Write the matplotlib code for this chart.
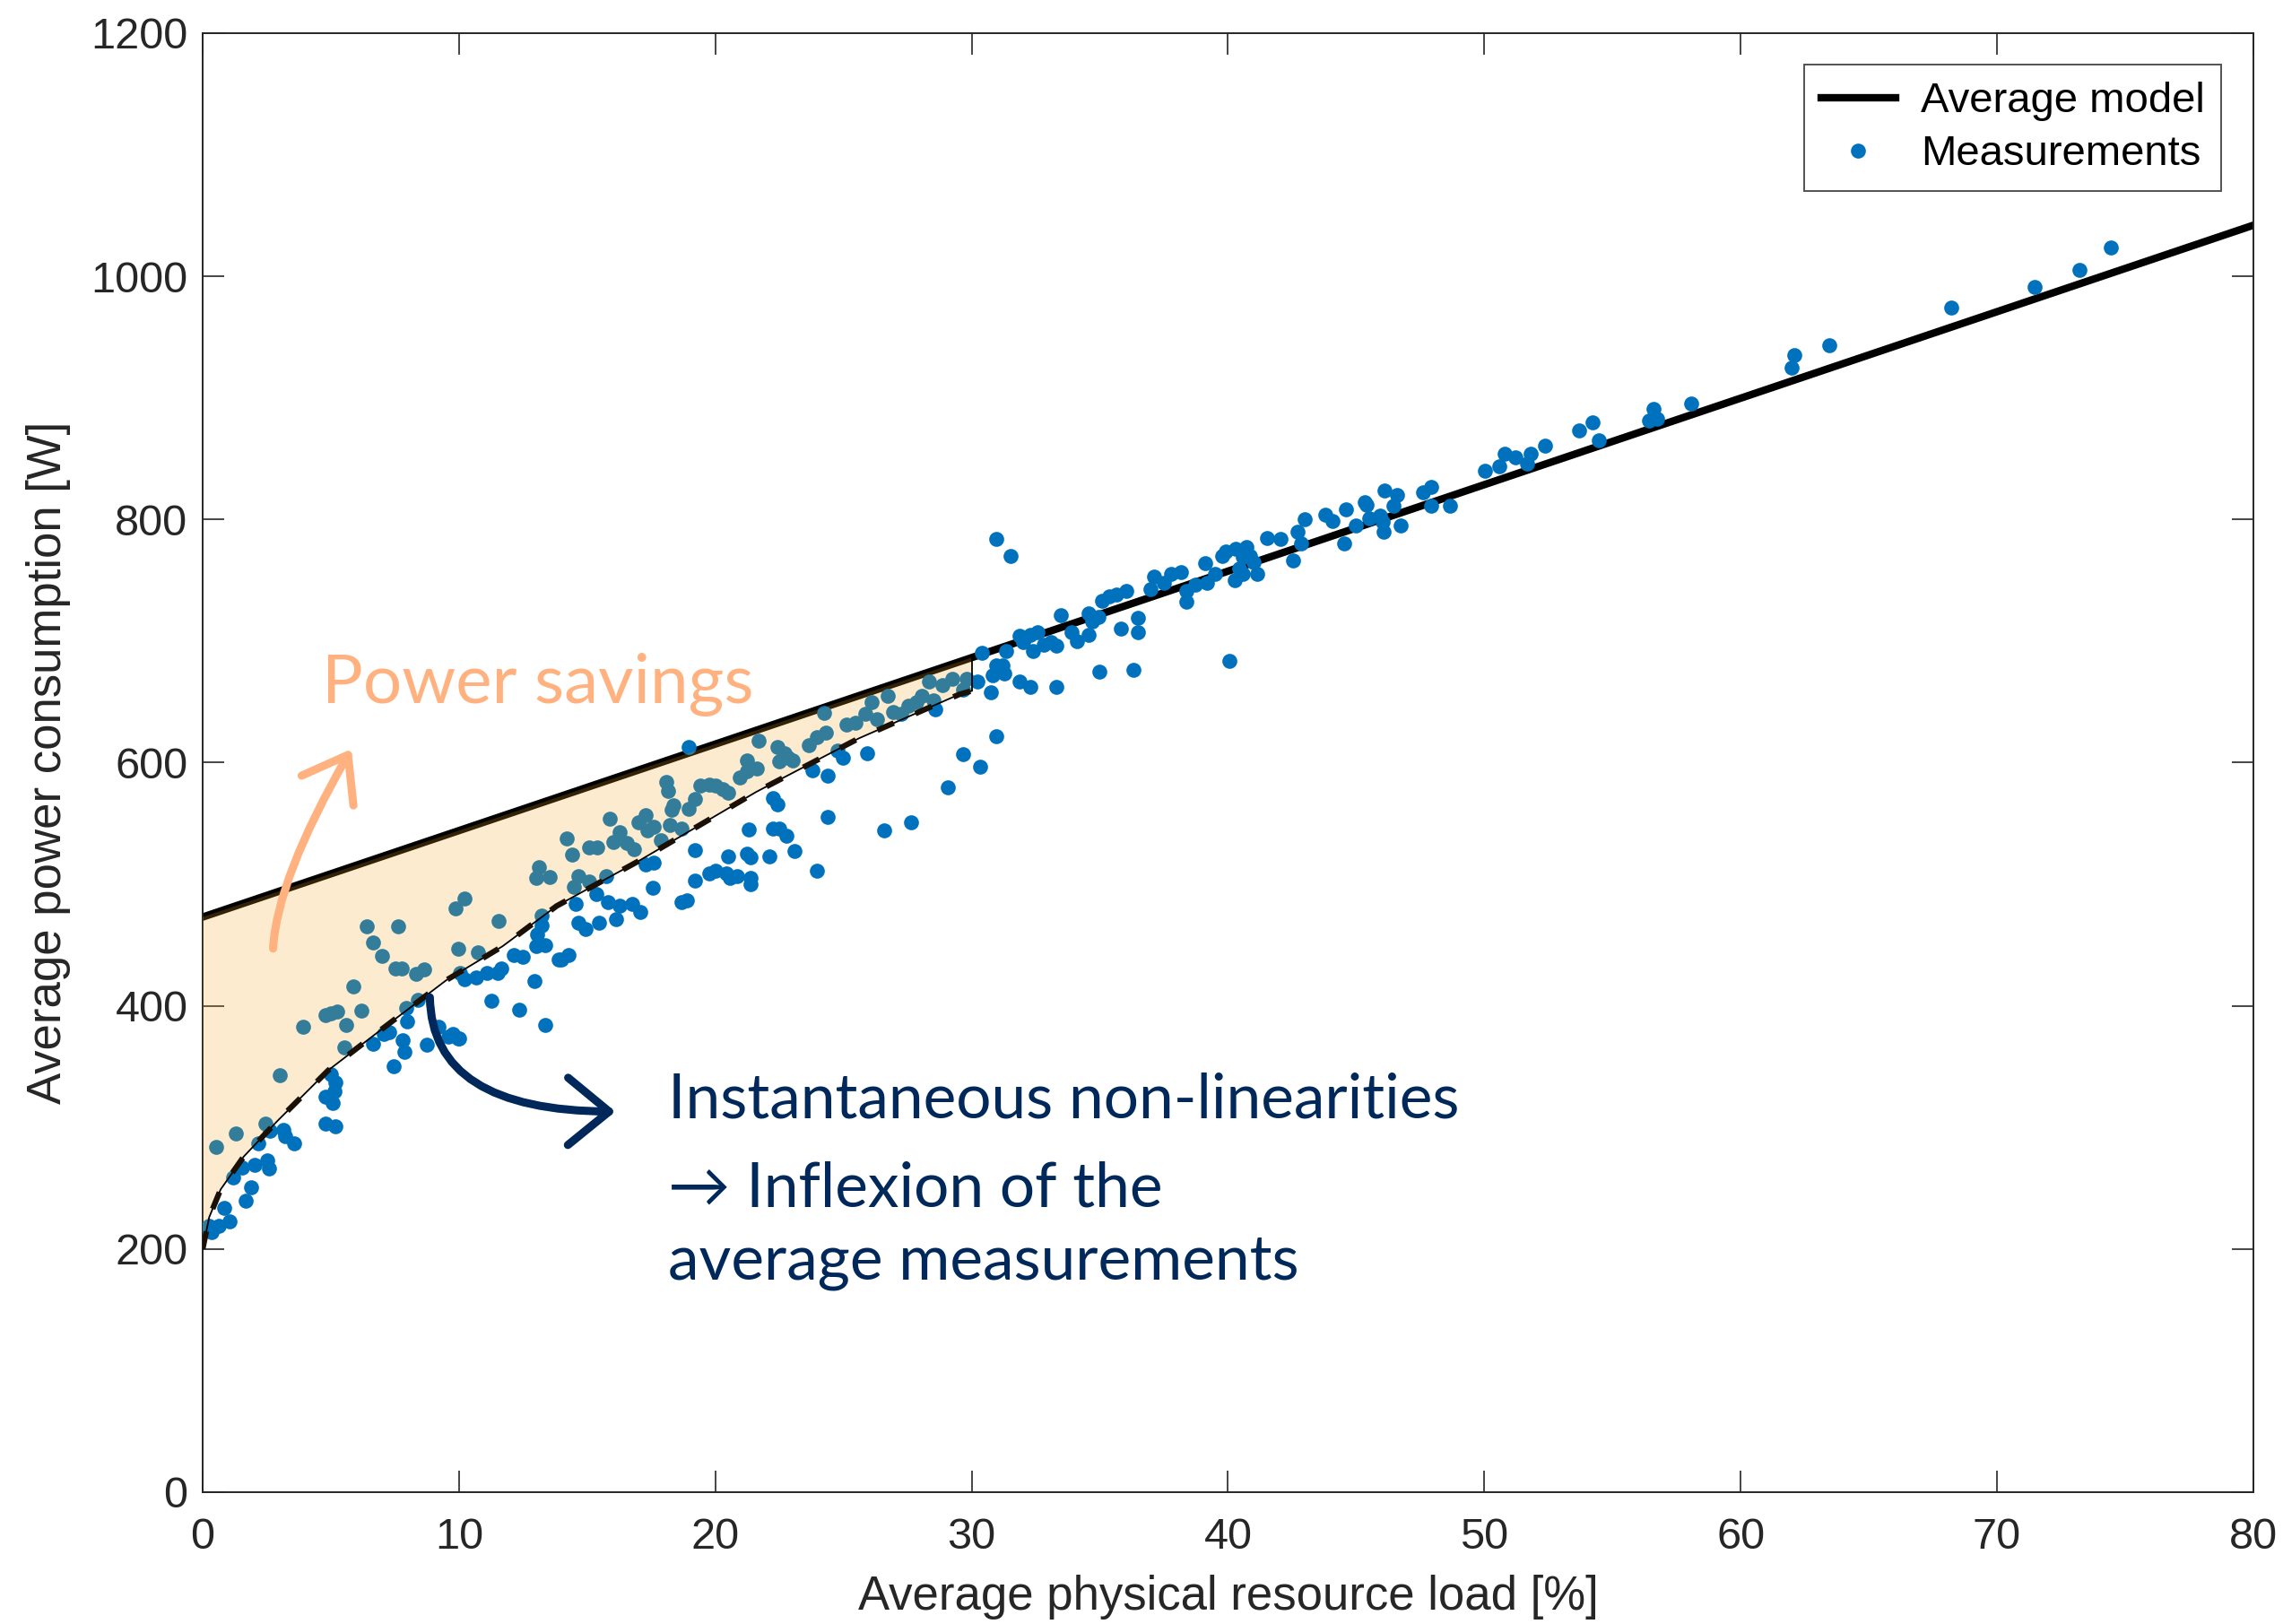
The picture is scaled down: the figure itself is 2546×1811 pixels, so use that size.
import numpy as np
import matplotlib.pyplot as plt
from matplotlib.patches import FancyArrowPatch

# average model: straight line over the whole load range
model_x = [0, 80]
model_y = [473, 1042]

# inflexion of the averaged measurements (low-load part)
curve_x = [0, 0.25, 0.7, 1.6, 2.9, 4.9, 7.0, 9.5, 11.7, 13.8, 17.0, 21.6, 25.6, 29.5, 30]
curve_y = [200, 226, 249, 276, 305, 347, 381, 421, 449, 482, 519, 576, 620, 656, 659]

# measurements, load 0-14 %
load_a = [6.41, 7.64, 9.85, 10.2, 11.54, 13.23, 6.65, 7.0, 7.52, 7.75, 8.34, 8.63, 9.97, 10.73,
          5.89, 6.18, 4.78, 5.01, 5.25, 5.6, 3.9, 5.54, 3.0, 2.45, 1.28, 0.52, 7.93, 8.4, 10.03,
          0.0, 0.23, 0.35, 0.64, 1.05, 0.82, 1.69, 1.87, 1.17, 1.52, 2.04, 2.51, 2.57, 2.16,
          3.15, 3.2, 3.56, 2.62, 4.78, 5.19, 4.78, 5.07, 5.13, 5.19, 5.01, 6.65, 7.05, 7.29,
          7.46, 7.87, 7.81, 7.99, 8.75, 9.21, 9.74, 9.97, 10.2, 10.67, 11.08, 11.49, 11.66,
          12.13, 12.48, 11.25, 12.36, 13.35, 12.94, 13.0, 13.35, 13.06, 13.23, 13.88, 9.58, 9.99]
power_a = [465, 465, 480, 488, 470, 474, 452, 441, 431, 431, 426, 430, 447, 444,
           416, 396, 392, 394, 395, 384, 383, 366, 343, 303, 295, 284, 398, 405, 427,
           215, 219, 214, 219, 223, 234, 240, 251, 259, 267, 269, 273, 266, 287,
           298, 293, 287, 297, 303, 301, 325, 320, 330, 337, 344, 369, 377, 378,
           350, 362, 372, 387, 368, 383, 377, 373, 422, 423, 427, 427, 431,
           442, 440, 404, 397, 384, 420, 449, 450, 459, 466, 438, 375, 373]

# measurements, load 13-30 %
load_b = [13.13, 13.0, 13.53, 14.2, 14.4, 14.47, 14.67, 15.07, 15.07, 15.4, 15.88, 15.74, 16.01,
          16.28, 16.54, 16.81, 17.01, 17.27, 17.34, 17.61, 17.88, 18.08, 18.15, 18.35, 18.29,
          18.22, 18.69, 18.95, 19.22, 19.42, 19.76, 20.02, 20.29, 20.49, 20.96, 21.23, 21.23,
          21.63, 21.7, 22.43, 22.5, 22.7, 22.83, 23.03, 23.64, 23.97, 24.24, 24.31, 24.78,
          25.11, 25.45, 25.85, 26.11, 26.32, 26.72, 26.92, 27.25, 27.52, 27.86, 28.06, 28.32,
          28.52, 28.86, 29.26, 29.66, 29.8,
          14.0, 14.27, 14.54, 14.67, 14.94, 15.47, 15.34, 15.81, 16.14, 16.28, 16.74, 17.08,
          17.28, 17.61, 17.55, 18.69, 18.89, 19.22, 19.22, 19.76, 20.02, 20.42, 20.56, 20.83,
          20.49, 21.23, 21.36, 21.36, 21.36, 22.09, 22.5, 22.23, 22.77, 23.1, 21.29, 22.23,
          22.43, 23.97, 24.37, 24.37, 23.77, 24.97, 25.92, 26.58, 27.65, 29.06, 29.66, 28.59,
          18.95]
power_b = [514, 505, 506, 538, 524, 498, 507, 502, 530, 530, 554, 507, 535,
           543, 534, 529, 551, 557, 544, 547, 536, 584, 577, 565, 561,
           549, 546, 562, 570, 581, 582, 581, 578, 575, 588, 602, 593,
           595, 618, 613, 601, 608, 604, 602, 614, 621, 641, 625, 610,
           631, 633, 640, 650, 636, 655, 642, 640, 647, 650, 655, 667,
           651, 664, 669, 660, 669,
           438, 442, 484, 468, 463, 468, 492, 485, 471, 482, 484, 477,
           516, 518, 497, 485, 487, 528, 503, 509, 511, 509, 505, 507,
           523, 525, 522, 505, 500, 523, 546, 546, 540, 527, 545, 571,
           566, 511, 589, 555, 594, 604, 608, 544, 551, 580, 607, 644,
           613]

# measurements, load 30-46 %
load_c = [30.94, 31.5, 30.38, 30.21, 30.75, 30.94, 31.2, 30.8, 31.28, 31.35, 31.88, 32.28, 33.29,
          31.88, 32.28, 32.55, 32.0, 32.4, 32.82, 33.09, 33.29, 33.49, 33.89, 34.09, 34.56,
          34.69, 34.56, 35.1, 35.37, 35.63, 36.03, 34.96, 35.83, 36.5, 36.5, 36.3, 34.99,
          37.1, 36.97, 37.5, 37.77, 38.17, 38.37, 38.37, 38.71, 39.11, 39.51, 39.18, 40.05,
          39.91, 39.78, 40.31, 40.72, 40.58, 40.98, 40.25, 40.58, 41.12, 40.45, 40.85, 41.52,
          42.06, 42.53, 42.72, 42.99, 42.86, 43.79, 44.06, 44.53, 44.6, 45.0, 45.4, 45.94,
          46.07, 30.97, 30.33]
power_c = [784, 770, 690, 667, 658, 680, 680, 672, 673, 692, 667, 662, 662,
           704, 705, 707, 699, 692, 697, 699, 696, 721, 707, 700, 723,
           716, 705, 733, 737, 738, 741, 720, 710, 707, 719, 676, 675,
           753, 743, 748, 755, 757, 741, 732, 746, 764, 755, 748, 684,
           774, 770, 776, 777, 769, 765, 750, 755, 755, 760, 770, 785,
           784, 766, 790, 800, 780, 804, 799, 780, 808, 795, 812, 803,
           790, 622, 597]

# measurements, load 45-80 %
load_d = [45.5, 46.04, 46.75, 46.44, 46.59, 46.12, 45.34, 47.6, 47.92, 47.92, 48.65, 50.03,
          50.57, 50.81, 51.2, 51.66, 51.82, 52.37, 53.7, 54.21, 54.45, 56.43, 56.59, 56.74,
          58.07, 61.97, 62.1, 63.44, 68.2, 71.47, 73.2, 74.44]
power_d = [801, 798, 795, 811, 820, 824, 814, 822, 827, 811, 811, 840,
           844, 854, 851, 846, 854, 861, 873, 880, 865, 881, 891, 883,
           895, 925, 935, 943, 974, 991, 1005, 1024]

load = np.concatenate([load_a, load_b, load_c, load_d])
power = np.concatenate([power_a, power_b, power_c, power_d])

blue = '#0072BD'
axis_grey = '#262626'
navy = '#00285A'
salmon = '#FFB27F'

plt.rcParams['font.family'] = ['Liberation Sans', 'DejaVu Sans']

fig = plt.figure(figsize=(25.46, 18.11), dpi=100)
ax = fig.add_axes([0.0888, 0.0812, 0.8982, 0.8984])

ax.plot(model_x, model_y, color='black', lw=6, zorder=2, label='Average model')
ax.plot(load, power, 'o', color=blue, ms=12, mew=0, zorder=3, label='Measurements')

# shaded savings area between the model and the inflexion curve
top = np.interp(curve_x, model_x, model_y)
ax.fill_between(curve_x, curve_y, top, facecolor='#F5A518', alpha=0.21, lw=0, zorder=4)
ax.plot(curve_x, curve_y, color='black', lw=1.3, zorder=5)
ax.plot(curve_x, curve_y, color='#1a1005', lw=4.5, dashes=(3.2, 4.2), zorder=5)
ax.plot([curve_x[-1], curve_x[-1]], [curve_y[-1], top[-1]], color='black', lw=1.3, zorder=5)

# annotation arrows
ax.add_patch(FancyArrowPatch((2.74, 445), (5.85, 613),
                             connectionstyle='angle3,angleA=88,angleB=60',
                             arrowstyle='->,head_length=0.55,head_width=0.4',
                             mutation_scale=60, lw=6.5, color=salmon, zorder=6))
ax.add_patch(FancyArrowPatch((8.86, 409), (16.2, 313),
                             connectionstyle='angle3,angleA=90,angleB=0',
                             arrowstyle='->,head_length=0.55,head_width=0.45',
                             mutation_scale=60, lw=6.5, color=navy, zorder=6))

note_font = ['Lato', 'DejaVu Sans']
ax.text(4.65, 649, 'Power savings', color=salmon, fontsize=55, family=note_font, zorder=7)
ax.text(18.15, 308, 'Instantaneous non-linearities', color=navy, fontsize=50, family=note_font, zorder=7)
ax.text(18.15, 235, '\u2192 Inflexion of the', color=navy, fontsize=50, family=note_font, zorder=7)
ax.text(18.15, 175, 'average measurements', color=navy, fontsize=50, family=note_font, zorder=7)

ax.set_xlim(0, 80)
ax.set_ylim(0, 1200)
ax.set_xticks(np.arange(0, 81, 10))
ax.set_yticks(np.arange(0, 1201, 200))
ax.tick_params(direction='in', length=17, width=1.2, colors=axis_grey, labelsize=35,
               top=True, right=True)
ax.tick_params(axis='x', pad=20)
ax.tick_params(axis='y', pad=12)
for s in ax.spines.values():
    s.set_color(axis_grey)
    s.set_linewidth(1.4)

ax.set_xlabel('Average physical resource load [%]', fontsize=38, color=axis_grey, labelpad=14)
ax.set_ylabel('Average power consumption [W]', fontsize=38, color=axis_grey, labelpad=16)

leg = ax.legend(loc='upper right', fontsize=34, frameon=True, fancybox=False,
                edgecolor=axis_grey, borderaxespad=0.75, handlelength=1.75,
                handletextpad=0.6, borderpad=0.4, labelspacing=0.32)
leg.get_frame().set_linewidth(1.4)

fig.savefig('out.png', dpi=100)
